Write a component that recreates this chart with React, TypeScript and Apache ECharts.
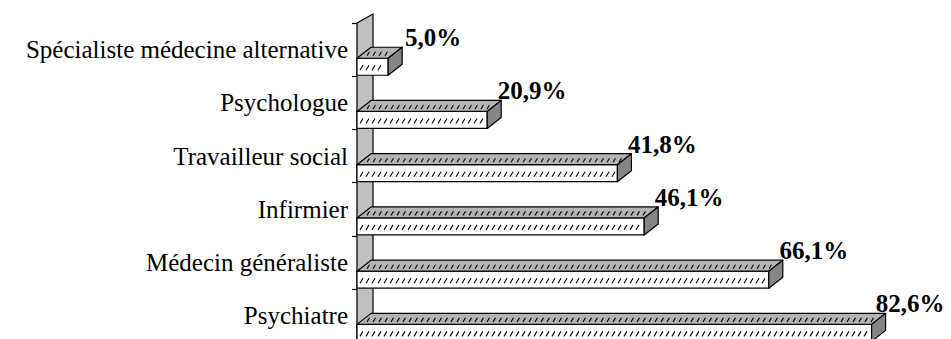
import React, { useEffect, useRef } from "react";
import * as echarts from "echarts";

// Survey shares per professional, top to bottom
const categories: string[] = [
  "Spécialiste médecine alternative",
  "Psychologue",
  "Travailleur social",
  "Infirmier",
  "Médecin généraliste",
  "Psychiatre",
];
const values: number[] = [5.0, 20.9, 41.8, 46.1, 66.1, 82.6];

const WIDTH = 951;
const HEIGHT = 339;
const SERIF = "Liberation Serif, Times New Roman, DejaVu Serif, serif";

// 3D look: depth offsets of the bars and of the back wall
const BAR_DX = 14;
const BAR_DY = 11;
const FRONT_H = 17;
const WALL_DX = 16;
const WALL_DY = 9;
const HATCH_STEP = 6;

// row of short "/" strokes between x0 and x1, centred on yc
function hatchRow(x0: number, x1: number, yc: number, h: number, w: number) {
  let d = "";
  for (let x = x0 + 3; x + w < x1 - 2; x += HATCH_STEP) {
    d += `M${x.toFixed(1)} ${(yc + h / 2).toFixed(1)}L${(x + w).toFixed(1)} ${(yc - h / 2).toFixed(1)}`;
  }
  return d || "M0 0";
}

const fmt = (v: number) => v.toFixed(1).replace(".", ",") + "%";

export default function App() {
  const ref = useRef<HTMLDivElement>(null);

  useEffect(() => {
    if (!ref.current) return;
    const chart = echarts.init(ref.current, undefined, { renderer: "svg" });

    const data = values.map((v, i) => [v, i]);

    chart.setOption({
      animation: false,
      backgroundColor: "#ffffff",
      textStyle: { fontFamily: SERIF },
      grid: { left: 357, top: 23, width: 560.7, height: 319.4, containLabel: false },
      xAxis: {
        type: "value",
        min: 0,
        max: 90,
        show: false,
        splitLine: { show: false },
      },
      yAxis: {
        type: "category",
        inverse: true,
        data: categories,
        axisLine: { show: true, lineStyle: { color: "#000", width: 1.2 } },
        axisTick: { show: true, length: 5, lineStyle: { color: "#000", width: 1.2 } },
        axisLabel: {
          color: "#000",
          fontFamily: SERIF,
          fontSize: 25,
          margin: 9,
        },
        splitLine: { show: false },
      },
      series: [
        {
          // back wall standing at the zero line
          type: "custom",
          z: 1,
          silent: true,
          clip: false,
          data: [[0, 0]],
          encode: { x: 0, y: 1 },
          renderItem: (params: any) => {
            const cs = params.coordSys;
            const x0 = cs.x;
            const top = cs.y;
            const bottom = cs.y + cs.height + 20;
            return {
              type: "polygon",
              shape: {
                points: [
                  [x0, top],
                  [x0 + WALL_DX, top - WALL_DY],
                  [x0 + WALL_DX, bottom - WALL_DY],
                  [x0, bottom],
                ],
              },
              style: { fill: "#c0c0c0", stroke: "#000", lineWidth: 1.2 },
            };
          },
        },
        {
          type: "custom",
          z: 3,
          clip: false,
          data,
          encode: { x: 0, y: 1 },
          renderItem: (params: any, api: any) => {
            const v = api.value(0);
            const idx = api.value(1);
            const start = api.coord([0, idx]);
            const end = api.coord([v, idx]);
            const band = api.size([0, 1])[1];
            const x0 = start[0];
            const x1 = end[0];
            const fb = start[1] + band / 2 - 1;
            const ft = fb - FRONT_H;
            const bt = ft - BAR_DY;
            const line = { stroke: "#000", lineWidth: 1.2, lineJoin: "round" };
            let cx = x1 + BAR_DX + 31;
            if (cx > WIDTH - 41) cx = WIDTH - 41;
            const frontHatch = hatchRow(x0, x1, ft + FRONT_H / 2 + 1, 5, 3);
            const topMid = ft - BAR_DY / 2;
            const topHatch = hatchRow(x0 + BAR_DX / 2, x1 + BAR_DX / 2, topMid + 1, 4, 2.5);
            return {
              type: "group",
              children: [
                {
                  type: "polygon",
                  shape: { points: [[x0, fb], [x1, fb], [x1, ft], [x0, ft]] },
                  style: { fill: "#ffffff", ...line },
                },
                {
                  type: "path",
                  shape: { pathData: frontHatch },
                  style: { fill: null, stroke: "#000", lineWidth: 1.1 },
                },
                {
                  type: "polygon",
                  shape: {
                    points: [[x0, ft], [x1, ft], [x1 + BAR_DX, bt], [x0 + BAR_DX, bt]],
                  },
                  style: { fill: "#b4b4b4", ...line },
                },
                {
                  type: "path",
                  shape: { pathData: topHatch },
                  style: { fill: null, stroke: "#000", lineWidth: 1.1 },
                },
                {
                  type: "polygon",
                  shape: {
                    points: [[x1, fb], [x1, ft], [x1 + BAR_DX, bt], [x1 + BAR_DX, fb - BAR_DY]],
                  },
                  style: { fill: "#858585", ...line },
                },
                {
                  type: "text",
                  x: cx,
                  y: bt + 3,
                  style: {
                    text: fmt(v),
                    fill: "#000",
                    fontFamily: SERIF,
                    fontSize: 25,
                    fontWeight: "bold",
                    align: "center",
                    verticalAlign: "bottom",
                  },
                },
              ],
            };
          },
        },
      ],
    });

    return () => chart.dispose();
  }, []);

  return (
    <div
      ref={ref}
      style={{ position: "fixed", left: 0, top: 0, width: WIDTH, height: HEIGHT + 7 }}
    />
  );
}
